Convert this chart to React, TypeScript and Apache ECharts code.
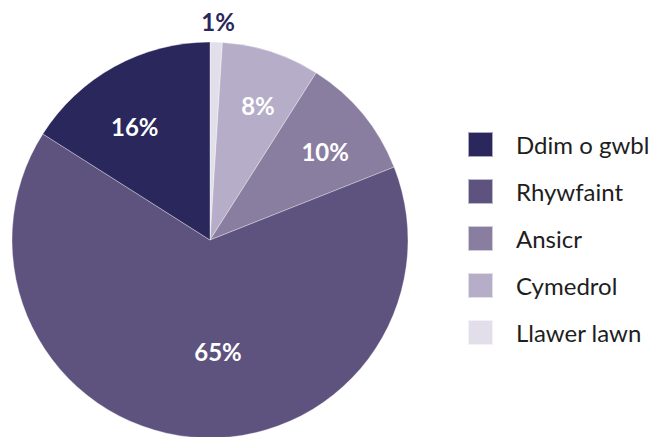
import React, { useEffect, useRef } from "react";
import * as echarts from "echarts";

// Clockwise from the top of the pie
const categories = ["Llawer lawn", "Cymedrol", "Ansicr", "Rhywfaint", "Ddim o gwbl"];
const values = [1, 8, 10, 65, 16];
const colors = ["#e2dfeb", "#b6adc9", "#8a7ea0", "#5e527f", "#29275b"];
const legendOrder = ["Ddim o gwbl", "Rhywfaint", "Ansicr", "Cymedrol", "Llawer lawn"];

// label placement (radius in px from centre, angle shift in degrees from slice mid-angle)
const labelRadius = [219, 143, 145, 112, 136];
const labelAngleShift = [0.3, 1.6, 2.2, -9.5, -4.8];

const CX = 210;
const CY = 240;
const R = 198;

export default function App() {
  const ref = useRef<HTMLDivElement>(null);
  useEffect(() => {
    document.body.style.margin = "0";
    const chart = echarts.init(ref.current!, null, { renderer: "svg" });
    const total = values.reduce((a, b) => a + b, 0);
    const mids: number[] = [];
    let acc = 0;
    values.forEach((v) => {
      mids.push(((acc + v / 2) / total) * 360);
      acc += v;
    });
    chart.setOption({
      animation: false,
      backgroundColor: "#ffffff",
      legend: {
        orient: "vertical",
        left: 467,
        top: 131,
        padding: 0,
        itemWidth: 25,
        itemHeight: 25,
        itemGap: 20,
        icon: "rect",
        data: legendOrder,
        textStyle: {
          fontFamily: "Lato",
          fontSize: 24,
          color: "#1e1e1e",
          padding: [0, 0, 0, 18],
        },
      },
      series: [
        {
          type: "pie",
          center: [CX, CY],
          radius: [0, R],
          startAngle: 90,
          clockwise: true,
          itemStyle: { borderColor: "rgba(255,255,255,0.6)", borderWidth: 0.6 },
          label: {
            show: true,
            position: "inside",
            formatter: "{c}%",
            fontFamily: "Lato",
            fontWeight: "bold",
            fontSize: 24,
            color: "#ffffff",
          },
          labelLine: { show: false },
          emphasis: { disabled: true },
          labelLayout: (params: any) => {
            const i = params.dataIndex;
            const a = ((mids[i] + labelAngleShift[i]) * Math.PI) / 180;
            const tx = CX + labelRadius[i] * Math.sin(a);
            const ty = CY - labelRadius[i] * Math.cos(a);
            const r = params.labelRect;
            return { dx: tx - (r.x + r.width / 2), dy: ty - (r.y + r.height / 2) };
          },
          data: categories.map((name, i) => ({
            name,
            value: values[i],
            itemStyle: { color: colors[i] },
            label: i === 0 ? { color: "#29275b" } : undefined,
          })),
        },
      ],
    });
    return () => chart.dispose();
  }, []);
  return <div ref={ref} style={{ width: 666, height: 437 }} />;
}
